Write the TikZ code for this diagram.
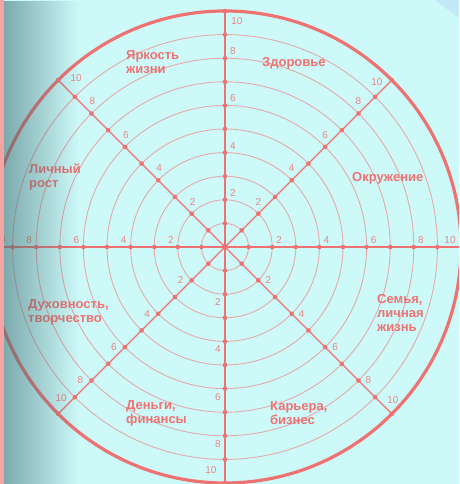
\documentclass[tikz,border=0pt]{standalone}
\usepackage{fontspec}
\setmainfont{Liberation Sans}
\usetikzlibrary{fadings}
\definecolor{bgcyan}{HTML}{CDF9F9}
\definecolor{wheelcoral}{HTML}{EF7272}
\definecolor{ringpink}{HTML}{E4AAAA}
\definecolor{numpink}{HTML}{EA8585}
\definecolor{edgepink}{HTML}{F5A4A4}
\definecolor{shadeteal}{HTML}{3F6E72}
\definecolor{cornerblue}{HTML}{C3E8F7}

\tikzset{
  ring/.style={draw=ringpink, line width=0.9pt},
  spoke/.style={draw=wheelcoral, line width=1.4pt},
  tick/.style={fill=wheelcoral},
  numlabel/.style={text=numpink, font=\fontsize{10}{12}\selectfont, inner sep=0pt},
  sector/.style={text=wheelcoral, font=\fontsize{13}{14}\selectfont\bfseries,
                 align=left, anchor=north west, inner sep=0pt},
}

\begin{document}
\begin{tikzpicture}[x=1pt, y=1pt]
    % canvas
    \useasboundingbox (-225,-237) rectangle (234,247);
    \clip (-225,-237) rectangle (234,247);
    \fill[bgcyan] (-225,-237) rectangle (234,247);
    \fill[cornerblue] (210,247) -- (234,247) -- (234,229) -- cycle;

    % rings
    \foreach \k in {1,...,9}
        \draw[ring] (0,0) circle[radius=\k*23.6];
    \draw[wheelcoral, line width=3.2pt] (0,0) circle[radius=236];

    % spokes and dots
    \foreach \ang in {0,45,...,315} {
        \draw[spoke] (0,0) -- (\ang:236);
        \foreach \k in {1,...,10}
            \fill[tick] (\ang:\k*23.6) circle[radius=2.3];
    }
    \fill[tick] (0,0) circle[radius=3];

    % scale numbers
    \foreach \ang/\dx/\dy/\tx/\ty in {90/8/7/12/-10, 270/-7/-8/-14/13, 0/7/7/-11/7,
        180/-7/7/11/7, 45/0/12/-15/-2, 135/1/12/18/2, 315/10/0/1/14, 225/-11/0/3/16} {
        \foreach \k in {2,4,6,8}
            \node[numlabel] (num-\ang-\k) at ([shift={(\dx,\dy)}]\ang:\k*23.6) {\k};
        \node[numlabel] (num-\ang-10) at ([shift={(\tx,\ty)}]\ang:236) {10};
    }

    % sectors
    \node[sector] (brightness) at (-99,197) {Яркость\\жизни};
    \node[sector] (health) at (37,190) {Здоровье};
    \node[sector] (growth) at (-196,83) {Личный\\рост};
    \node[sector] (circle) at (127,75) {Окружение};
    \node[sector] (spirit) at (-197,-52) {Духовность,\\творчество};
    \node[sector] (family) at (152,-47) {Семья,\\личная\\жизнь};
    \node[sector] (money) at (-99,-153) {Деньги,\\финансы};
    \node[sector] (career) at (45,-154) {Карьера,\\бизнес};

    % left edge
    \fill[shadeteal, path fading=east, fill opacity=0.75] (-246,-237) rectangle (-146,247);
    \fill[edgepink] (-225,-237) rectangle (-221,247);
\end{tikzpicture}
\end{document}
